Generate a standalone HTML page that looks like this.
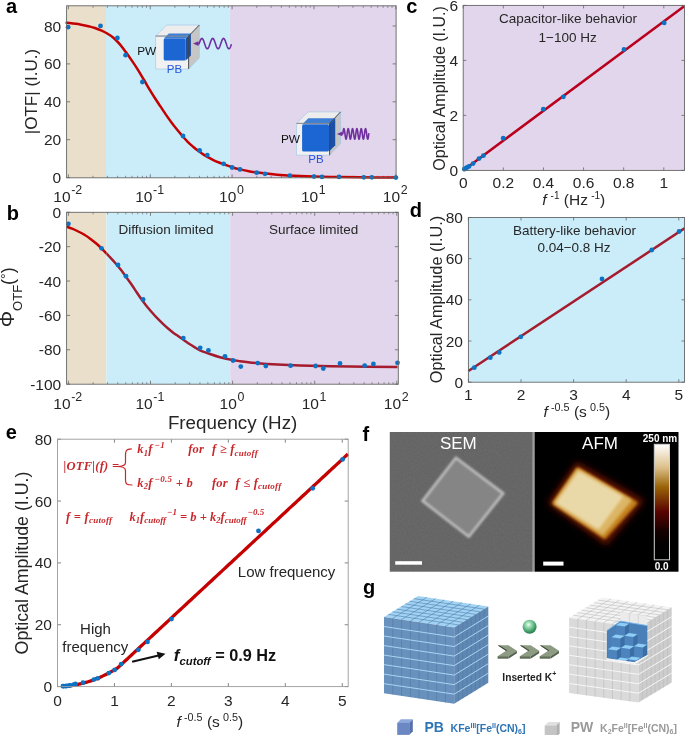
<!DOCTYPE html>
<html><head><meta charset="utf-8"><style>
html,body{margin:0;padding:0;background:#fff;}
body{width:685px;height:735px;overflow:hidden;}
svg{display:block;will-change:transform;}
</style></head><body>
<svg width="685" height="735" viewBox="0 0 685 735">
<rect x="66.60" y="5.80" width="39.40" height="172.00" fill="#eadfcb"/>
<rect x="106.00" y="5.80" width="123.50" height="172.00" fill="#cbedfa"/>
<rect x="229.50" y="5.80" width="166.60" height="172.00" fill="#e2d6ec"/>
<line x1="66.60" y1="177.60" x2="70.10" y2="177.60" stroke="#666666" stroke-width="0.8"/>
<line x1="396.10" y1="177.60" x2="392.60" y2="177.60" stroke="#666666" stroke-width="0.8"/>
<text x="61.20" y="183.10" font-family='"Liberation Sans", sans-serif' font-size="15.5" text-anchor="end" font-weight="normal" font-style="normal" fill="#262626">0</text>
<line x1="66.60" y1="139.70" x2="70.10" y2="139.70" stroke="#666666" stroke-width="0.8"/>
<line x1="396.10" y1="139.70" x2="392.60" y2="139.70" stroke="#666666" stroke-width="0.8"/>
<text x="61.20" y="145.20" font-family='"Liberation Sans", sans-serif' font-size="15.5" text-anchor="end" font-weight="normal" font-style="normal" fill="#262626">20</text>
<line x1="66.60" y1="101.80" x2="70.10" y2="101.80" stroke="#666666" stroke-width="0.8"/>
<line x1="396.10" y1="101.80" x2="392.60" y2="101.80" stroke="#666666" stroke-width="0.8"/>
<text x="61.20" y="107.30" font-family='"Liberation Sans", sans-serif' font-size="15.5" text-anchor="end" font-weight="normal" font-style="normal" fill="#262626">40</text>
<line x1="66.60" y1="63.90" x2="70.10" y2="63.90" stroke="#666666" stroke-width="0.8"/>
<line x1="396.10" y1="63.90" x2="392.60" y2="63.90" stroke="#666666" stroke-width="0.8"/>
<text x="61.20" y="69.40" font-family='"Liberation Sans", sans-serif' font-size="15.5" text-anchor="end" font-weight="normal" font-style="normal" fill="#262626">60</text>
<line x1="66.60" y1="26.00" x2="70.10" y2="26.00" stroke="#666666" stroke-width="0.8"/>
<line x1="396.10" y1="26.00" x2="392.60" y2="26.00" stroke="#666666" stroke-width="0.8"/>
<text x="61.20" y="31.50" font-family='"Liberation Sans", sans-serif' font-size="15.5" text-anchor="end" font-weight="normal" font-style="normal" fill="#262626">80</text>
<line x1="68.40" y1="177.80" x2="68.40" y2="174.30" stroke="#666666" stroke-width="0.8"/>
<line x1="68.40" y1="5.80" x2="68.40" y2="9.30" stroke="#666666" stroke-width="0.8"/>
<line x1="93.04" y1="177.80" x2="93.04" y2="175.80" stroke="#666666" stroke-width="0.7"/>
<line x1="93.04" y1="5.80" x2="93.04" y2="7.80" stroke="#666666" stroke-width="0.7"/>
<line x1="107.45" y1="177.80" x2="107.45" y2="175.80" stroke="#666666" stroke-width="0.7"/>
<line x1="107.45" y1="5.80" x2="107.45" y2="7.80" stroke="#666666" stroke-width="0.7"/>
<line x1="117.68" y1="177.80" x2="117.68" y2="175.80" stroke="#666666" stroke-width="0.7"/>
<line x1="117.68" y1="5.80" x2="117.68" y2="7.80" stroke="#666666" stroke-width="0.7"/>
<line x1="125.61" y1="177.80" x2="125.61" y2="175.80" stroke="#666666" stroke-width="0.7"/>
<line x1="125.61" y1="5.80" x2="125.61" y2="7.80" stroke="#666666" stroke-width="0.7"/>
<line x1="132.09" y1="177.80" x2="132.09" y2="175.80" stroke="#666666" stroke-width="0.7"/>
<line x1="132.09" y1="5.80" x2="132.09" y2="7.80" stroke="#666666" stroke-width="0.7"/>
<line x1="137.57" y1="177.80" x2="137.57" y2="175.80" stroke="#666666" stroke-width="0.7"/>
<line x1="137.57" y1="5.80" x2="137.57" y2="7.80" stroke="#666666" stroke-width="0.7"/>
<line x1="142.32" y1="177.80" x2="142.32" y2="175.80" stroke="#666666" stroke-width="0.7"/>
<line x1="142.32" y1="5.80" x2="142.32" y2="7.80" stroke="#666666" stroke-width="0.7"/>
<line x1="146.50" y1="177.80" x2="146.50" y2="175.80" stroke="#666666" stroke-width="0.7"/>
<line x1="146.50" y1="5.80" x2="146.50" y2="7.80" stroke="#666666" stroke-width="0.7"/>
<line x1="150.25" y1="177.80" x2="150.25" y2="174.30" stroke="#666666" stroke-width="0.8"/>
<line x1="150.25" y1="5.80" x2="150.25" y2="9.30" stroke="#666666" stroke-width="0.8"/>
<line x1="174.89" y1="177.80" x2="174.89" y2="175.80" stroke="#666666" stroke-width="0.7"/>
<line x1="174.89" y1="5.80" x2="174.89" y2="7.80" stroke="#666666" stroke-width="0.7"/>
<line x1="189.30" y1="177.80" x2="189.30" y2="175.80" stroke="#666666" stroke-width="0.7"/>
<line x1="189.30" y1="5.80" x2="189.30" y2="7.80" stroke="#666666" stroke-width="0.7"/>
<line x1="199.53" y1="177.80" x2="199.53" y2="175.80" stroke="#666666" stroke-width="0.7"/>
<line x1="199.53" y1="5.80" x2="199.53" y2="7.80" stroke="#666666" stroke-width="0.7"/>
<line x1="207.46" y1="177.80" x2="207.46" y2="175.80" stroke="#666666" stroke-width="0.7"/>
<line x1="207.46" y1="5.80" x2="207.46" y2="7.80" stroke="#666666" stroke-width="0.7"/>
<line x1="213.94" y1="177.80" x2="213.94" y2="175.80" stroke="#666666" stroke-width="0.7"/>
<line x1="213.94" y1="5.80" x2="213.94" y2="7.80" stroke="#666666" stroke-width="0.7"/>
<line x1="219.42" y1="177.80" x2="219.42" y2="175.80" stroke="#666666" stroke-width="0.7"/>
<line x1="219.42" y1="5.80" x2="219.42" y2="7.80" stroke="#666666" stroke-width="0.7"/>
<line x1="224.17" y1="177.80" x2="224.17" y2="175.80" stroke="#666666" stroke-width="0.7"/>
<line x1="224.17" y1="5.80" x2="224.17" y2="7.80" stroke="#666666" stroke-width="0.7"/>
<line x1="228.35" y1="177.80" x2="228.35" y2="175.80" stroke="#666666" stroke-width="0.7"/>
<line x1="228.35" y1="5.80" x2="228.35" y2="7.80" stroke="#666666" stroke-width="0.7"/>
<line x1="232.10" y1="177.80" x2="232.10" y2="174.30" stroke="#666666" stroke-width="0.8"/>
<line x1="232.10" y1="5.80" x2="232.10" y2="9.30" stroke="#666666" stroke-width="0.8"/>
<line x1="256.74" y1="177.80" x2="256.74" y2="175.80" stroke="#666666" stroke-width="0.7"/>
<line x1="256.74" y1="5.80" x2="256.74" y2="7.80" stroke="#666666" stroke-width="0.7"/>
<line x1="271.15" y1="177.80" x2="271.15" y2="175.80" stroke="#666666" stroke-width="0.7"/>
<line x1="271.15" y1="5.80" x2="271.15" y2="7.80" stroke="#666666" stroke-width="0.7"/>
<line x1="281.38" y1="177.80" x2="281.38" y2="175.80" stroke="#666666" stroke-width="0.7"/>
<line x1="281.38" y1="5.80" x2="281.38" y2="7.80" stroke="#666666" stroke-width="0.7"/>
<line x1="289.31" y1="177.80" x2="289.31" y2="175.80" stroke="#666666" stroke-width="0.7"/>
<line x1="289.31" y1="5.80" x2="289.31" y2="7.80" stroke="#666666" stroke-width="0.7"/>
<line x1="295.79" y1="177.80" x2="295.79" y2="175.80" stroke="#666666" stroke-width="0.7"/>
<line x1="295.79" y1="5.80" x2="295.79" y2="7.80" stroke="#666666" stroke-width="0.7"/>
<line x1="301.27" y1="177.80" x2="301.27" y2="175.80" stroke="#666666" stroke-width="0.7"/>
<line x1="301.27" y1="5.80" x2="301.27" y2="7.80" stroke="#666666" stroke-width="0.7"/>
<line x1="306.02" y1="177.80" x2="306.02" y2="175.80" stroke="#666666" stroke-width="0.7"/>
<line x1="306.02" y1="5.80" x2="306.02" y2="7.80" stroke="#666666" stroke-width="0.7"/>
<line x1="310.20" y1="177.80" x2="310.20" y2="175.80" stroke="#666666" stroke-width="0.7"/>
<line x1="310.20" y1="5.80" x2="310.20" y2="7.80" stroke="#666666" stroke-width="0.7"/>
<line x1="313.95" y1="177.80" x2="313.95" y2="174.30" stroke="#666666" stroke-width="0.8"/>
<line x1="313.95" y1="5.80" x2="313.95" y2="9.30" stroke="#666666" stroke-width="0.8"/>
<line x1="338.59" y1="177.80" x2="338.59" y2="175.80" stroke="#666666" stroke-width="0.7"/>
<line x1="338.59" y1="5.80" x2="338.59" y2="7.80" stroke="#666666" stroke-width="0.7"/>
<line x1="353.00" y1="177.80" x2="353.00" y2="175.80" stroke="#666666" stroke-width="0.7"/>
<line x1="353.00" y1="5.80" x2="353.00" y2="7.80" stroke="#666666" stroke-width="0.7"/>
<line x1="363.23" y1="177.80" x2="363.23" y2="175.80" stroke="#666666" stroke-width="0.7"/>
<line x1="363.23" y1="5.80" x2="363.23" y2="7.80" stroke="#666666" stroke-width="0.7"/>
<line x1="371.16" y1="177.80" x2="371.16" y2="175.80" stroke="#666666" stroke-width="0.7"/>
<line x1="371.16" y1="5.80" x2="371.16" y2="7.80" stroke="#666666" stroke-width="0.7"/>
<line x1="377.64" y1="177.80" x2="377.64" y2="175.80" stroke="#666666" stroke-width="0.7"/>
<line x1="377.64" y1="5.80" x2="377.64" y2="7.80" stroke="#666666" stroke-width="0.7"/>
<line x1="383.12" y1="177.80" x2="383.12" y2="175.80" stroke="#666666" stroke-width="0.7"/>
<line x1="383.12" y1="5.80" x2="383.12" y2="7.80" stroke="#666666" stroke-width="0.7"/>
<line x1="387.87" y1="177.80" x2="387.87" y2="175.80" stroke="#666666" stroke-width="0.7"/>
<line x1="387.87" y1="5.80" x2="387.87" y2="7.80" stroke="#666666" stroke-width="0.7"/>
<line x1="392.05" y1="177.80" x2="392.05" y2="175.80" stroke="#666666" stroke-width="0.7"/>
<line x1="392.05" y1="5.80" x2="392.05" y2="7.80" stroke="#666666" stroke-width="0.7"/>
<line x1="395.80" y1="177.80" x2="395.80" y2="174.30" stroke="#666666" stroke-width="0.8"/>
<line x1="395.80" y1="5.80" x2="395.80" y2="9.30" stroke="#666666" stroke-width="0.8"/>
<text x="67.80" y="202.00" font-family='"Liberation Sans", sans-serif' font-size="15.5" text-anchor="middle" fill="#262626">10<tspan font-size="12.4" dx="0.6" dy="-7.6">-2</tspan></text>
<text x="149.65" y="202.00" font-family='"Liberation Sans", sans-serif' font-size="15.5" text-anchor="middle" fill="#262626">10<tspan font-size="12.4" dx="0.6" dy="-7.6">-1</tspan></text>
<text x="231.50" y="202.00" font-family='"Liberation Sans", sans-serif' font-size="15.5" text-anchor="middle" fill="#262626">10<tspan font-size="12.4" dx="0.6" dy="-7.6">0</tspan></text>
<text x="313.35" y="202.00" font-family='"Liberation Sans", sans-serif' font-size="15.5" text-anchor="middle" fill="#262626">10<tspan font-size="12.4" dx="0.6" dy="-7.6">1</tspan></text>
<text x="395.20" y="202.00" font-family='"Liberation Sans", sans-serif' font-size="15.5" text-anchor="middle" fill="#262626">10<tspan font-size="12.4" dx="0.6" dy="-7.6">2</tspan></text>
<path d="M66.60,22.80 C68.83,23.07 76.10,23.77 80.00,24.40 C83.90,25.03 87.50,26.00 90.00,26.60 C92.50,27.20 93.15,27.37 95.00,28.00 C96.85,28.63 99.07,29.48 101.10,30.40 C103.13,31.32 105.15,32.28 107.20,33.50 C109.25,34.72 111.35,35.97 113.40,37.70 C115.45,39.43 117.47,41.55 119.50,43.90 C121.53,46.25 123.57,49.05 125.60,51.80 C127.63,54.55 129.67,57.43 131.70,60.40 C133.73,63.37 135.75,66.33 137.80,69.60 C139.85,72.87 141.95,76.53 144.00,80.00 C146.05,83.47 148.27,87.35 150.10,90.40 C151.93,93.45 153.28,95.63 155.00,98.30 C156.72,100.97 158.58,103.68 160.40,106.40 C162.22,109.12 164.08,111.97 165.90,114.60 C167.72,117.23 169.48,119.75 171.30,122.20 C173.12,124.65 174.98,127.03 176.80,129.30 C178.62,131.57 180.38,133.72 182.20,135.80 C184.02,137.88 185.88,139.98 187.70,141.80 C189.52,143.62 191.30,145.15 193.10,146.70 C194.90,148.25 196.68,149.73 198.50,151.10 C200.32,152.47 202.18,153.77 204.00,154.90 C205.82,156.03 207.58,156.90 209.40,157.90 C211.22,158.90 213.08,160.05 214.90,160.90 C216.72,161.75 218.62,162.37 220.30,163.00 C221.98,163.63 223.05,164.00 225.00,164.70 C226.95,165.40 229.50,166.42 232.00,167.20 C234.50,167.98 237.00,168.70 240.00,169.40 C243.00,170.10 246.33,170.78 250.00,171.40 C253.67,172.02 257.50,172.55 262.00,173.10 C266.50,173.65 270.67,174.22 277.00,174.70 C283.33,175.18 291.17,175.63 300.00,176.00 C308.83,176.37 320.00,176.68 330.00,176.90 C340.00,177.12 349.00,177.20 360.00,177.30 C371.00,177.40 390.00,177.47 396.00,177.50" fill="none" stroke="#c40000" stroke-width="2.5" stroke-linecap="round"/>
<circle cx="68.10" cy="27.20" r="2.4" fill="#0b72c4"/>
<circle cx="100.50" cy="25.90" r="2.4" fill="#0b72c4"/>
<circle cx="117.40" cy="38.00" r="2.4" fill="#0b72c4"/>
<circle cx="125.60" cy="55.20" r="2.4" fill="#0b72c4"/>
<circle cx="142.40" cy="82.00" r="2.4" fill="#0b72c4"/>
<circle cx="183.00" cy="136.00" r="2.4" fill="#0b72c4"/>
<circle cx="199.60" cy="150.50" r="2.4" fill="#0b72c4"/>
<circle cx="207.30" cy="155.10" r="2.4" fill="#0b72c4"/>
<circle cx="223.60" cy="163.80" r="2.4" fill="#0b72c4"/>
<circle cx="232.10" cy="167.50" r="2.4" fill="#0b72c4"/>
<circle cx="240.00" cy="169.40" r="2.4" fill="#0b72c4"/>
<circle cx="256.70" cy="172.70" r="2.4" fill="#0b72c4"/>
<circle cx="265.00" cy="173.80" r="2.4" fill="#0b72c4"/>
<circle cx="289.90" cy="175.70" r="2.4" fill="#0b72c4"/>
<circle cx="314.00" cy="176.60" r="2.4" fill="#0b72c4"/>
<circle cx="322.00" cy="176.90" r="2.4" fill="#0b72c4"/>
<circle cx="339.00" cy="176.90" r="2.4" fill="#0b72c4"/>
<circle cx="363.80" cy="177.30" r="2.4" fill="#0b72c4"/>
<circle cx="371.80" cy="177.30" r="2.4" fill="#0b72c4"/>
<circle cx="395.90" cy="177.60" r="2.4" fill="#0b72c4"/>
<rect x="66.60" y="5.80" width="329.50" height="172.00" fill="none" stroke="#666666" stroke-width="0.9"/>
<rect x="66.60" y="212.30" width="39.90" height="171.90" fill="#eadfcb"/>
<rect x="106.50" y="212.30" width="123.80" height="171.90" fill="#cbedfa"/>
<rect x="230.30" y="212.30" width="168.00" height="171.90" fill="#e2d6ec"/>
<line x1="66.60" y1="212.30" x2="70.10" y2="212.30" stroke="#666666" stroke-width="0.8"/>
<line x1="398.30" y1="212.30" x2="394.80" y2="212.30" stroke="#666666" stroke-width="0.8"/>
<text x="61.20" y="217.80" font-family='"Liberation Sans", sans-serif' font-size="15.5" text-anchor="end" font-weight="normal" font-style="normal" fill="#262626">0</text>
<line x1="66.60" y1="246.67" x2="70.10" y2="246.67" stroke="#666666" stroke-width="0.8"/>
<line x1="398.30" y1="246.67" x2="394.80" y2="246.67" stroke="#666666" stroke-width="0.8"/>
<text x="61.20" y="252.17" font-family='"Liberation Sans", sans-serif' font-size="15.5" text-anchor="end" font-weight="normal" font-style="normal" fill="#262626">-20</text>
<line x1="66.60" y1="281.04" x2="70.10" y2="281.04" stroke="#666666" stroke-width="0.8"/>
<line x1="398.30" y1="281.04" x2="394.80" y2="281.04" stroke="#666666" stroke-width="0.8"/>
<text x="61.20" y="286.54" font-family='"Liberation Sans", sans-serif' font-size="15.5" text-anchor="end" font-weight="normal" font-style="normal" fill="#262626">-40</text>
<line x1="66.60" y1="315.41" x2="70.10" y2="315.41" stroke="#666666" stroke-width="0.8"/>
<line x1="398.30" y1="315.41" x2="394.80" y2="315.41" stroke="#666666" stroke-width="0.8"/>
<text x="61.20" y="320.91" font-family='"Liberation Sans", sans-serif' font-size="15.5" text-anchor="end" font-weight="normal" font-style="normal" fill="#262626">-60</text>
<line x1="66.60" y1="349.78" x2="70.10" y2="349.78" stroke="#666666" stroke-width="0.8"/>
<line x1="398.30" y1="349.78" x2="394.80" y2="349.78" stroke="#666666" stroke-width="0.8"/>
<text x="61.20" y="355.28" font-family='"Liberation Sans", sans-serif' font-size="15.5" text-anchor="end" font-weight="normal" font-style="normal" fill="#262626">-80</text>
<line x1="66.60" y1="384.15" x2="70.10" y2="384.15" stroke="#666666" stroke-width="0.8"/>
<line x1="398.30" y1="384.15" x2="394.80" y2="384.15" stroke="#666666" stroke-width="0.8"/>
<text x="61.20" y="389.65" font-family='"Liberation Sans", sans-serif' font-size="15.5" text-anchor="end" font-weight="normal" font-style="normal" fill="#262626">-100</text>
<line x1="68.40" y1="384.20" x2="68.40" y2="380.70" stroke="#666666" stroke-width="0.8"/>
<line x1="68.40" y1="212.30" x2="68.40" y2="215.80" stroke="#666666" stroke-width="0.8"/>
<line x1="93.11" y1="384.20" x2="93.11" y2="382.20" stroke="#666666" stroke-width="0.7"/>
<line x1="93.11" y1="212.30" x2="93.11" y2="214.30" stroke="#666666" stroke-width="0.7"/>
<line x1="107.57" y1="384.20" x2="107.57" y2="382.20" stroke="#666666" stroke-width="0.7"/>
<line x1="107.57" y1="212.30" x2="107.57" y2="214.30" stroke="#666666" stroke-width="0.7"/>
<line x1="117.83" y1="384.20" x2="117.83" y2="382.20" stroke="#666666" stroke-width="0.7"/>
<line x1="117.83" y1="212.30" x2="117.83" y2="214.30" stroke="#666666" stroke-width="0.7"/>
<line x1="125.79" y1="384.20" x2="125.79" y2="382.20" stroke="#666666" stroke-width="0.7"/>
<line x1="125.79" y1="212.30" x2="125.79" y2="214.30" stroke="#666666" stroke-width="0.7"/>
<line x1="132.29" y1="384.20" x2="132.29" y2="382.20" stroke="#666666" stroke-width="0.7"/>
<line x1="132.29" y1="212.30" x2="132.29" y2="214.30" stroke="#666666" stroke-width="0.7"/>
<line x1="137.78" y1="384.20" x2="137.78" y2="382.20" stroke="#666666" stroke-width="0.7"/>
<line x1="137.78" y1="212.30" x2="137.78" y2="214.30" stroke="#666666" stroke-width="0.7"/>
<line x1="142.54" y1="384.20" x2="142.54" y2="382.20" stroke="#666666" stroke-width="0.7"/>
<line x1="142.54" y1="212.30" x2="142.54" y2="214.30" stroke="#666666" stroke-width="0.7"/>
<line x1="146.74" y1="384.20" x2="146.74" y2="382.20" stroke="#666666" stroke-width="0.7"/>
<line x1="146.74" y1="212.30" x2="146.74" y2="214.30" stroke="#666666" stroke-width="0.7"/>
<line x1="150.50" y1="384.20" x2="150.50" y2="380.70" stroke="#666666" stroke-width="0.8"/>
<line x1="150.50" y1="212.30" x2="150.50" y2="215.80" stroke="#666666" stroke-width="0.8"/>
<line x1="175.21" y1="384.20" x2="175.21" y2="382.20" stroke="#666666" stroke-width="0.7"/>
<line x1="175.21" y1="212.30" x2="175.21" y2="214.30" stroke="#666666" stroke-width="0.7"/>
<line x1="189.67" y1="384.20" x2="189.67" y2="382.20" stroke="#666666" stroke-width="0.7"/>
<line x1="189.67" y1="212.30" x2="189.67" y2="214.30" stroke="#666666" stroke-width="0.7"/>
<line x1="199.93" y1="384.20" x2="199.93" y2="382.20" stroke="#666666" stroke-width="0.7"/>
<line x1="199.93" y1="212.30" x2="199.93" y2="214.30" stroke="#666666" stroke-width="0.7"/>
<line x1="207.89" y1="384.20" x2="207.89" y2="382.20" stroke="#666666" stroke-width="0.7"/>
<line x1="207.89" y1="212.30" x2="207.89" y2="214.30" stroke="#666666" stroke-width="0.7"/>
<line x1="214.39" y1="384.20" x2="214.39" y2="382.20" stroke="#666666" stroke-width="0.7"/>
<line x1="214.39" y1="212.30" x2="214.39" y2="214.30" stroke="#666666" stroke-width="0.7"/>
<line x1="219.88" y1="384.20" x2="219.88" y2="382.20" stroke="#666666" stroke-width="0.7"/>
<line x1="219.88" y1="212.30" x2="219.88" y2="214.30" stroke="#666666" stroke-width="0.7"/>
<line x1="224.64" y1="384.20" x2="224.64" y2="382.20" stroke="#666666" stroke-width="0.7"/>
<line x1="224.64" y1="212.30" x2="224.64" y2="214.30" stroke="#666666" stroke-width="0.7"/>
<line x1="228.84" y1="384.20" x2="228.84" y2="382.20" stroke="#666666" stroke-width="0.7"/>
<line x1="228.84" y1="212.30" x2="228.84" y2="214.30" stroke="#666666" stroke-width="0.7"/>
<line x1="232.60" y1="384.20" x2="232.60" y2="380.70" stroke="#666666" stroke-width="0.8"/>
<line x1="232.60" y1="212.30" x2="232.60" y2="215.80" stroke="#666666" stroke-width="0.8"/>
<line x1="257.31" y1="384.20" x2="257.31" y2="382.20" stroke="#666666" stroke-width="0.7"/>
<line x1="257.31" y1="212.30" x2="257.31" y2="214.30" stroke="#666666" stroke-width="0.7"/>
<line x1="271.77" y1="384.20" x2="271.77" y2="382.20" stroke="#666666" stroke-width="0.7"/>
<line x1="271.77" y1="212.30" x2="271.77" y2="214.30" stroke="#666666" stroke-width="0.7"/>
<line x1="282.03" y1="384.20" x2="282.03" y2="382.20" stroke="#666666" stroke-width="0.7"/>
<line x1="282.03" y1="212.30" x2="282.03" y2="214.30" stroke="#666666" stroke-width="0.7"/>
<line x1="289.99" y1="384.20" x2="289.99" y2="382.20" stroke="#666666" stroke-width="0.7"/>
<line x1="289.99" y1="212.30" x2="289.99" y2="214.30" stroke="#666666" stroke-width="0.7"/>
<line x1="296.49" y1="384.20" x2="296.49" y2="382.20" stroke="#666666" stroke-width="0.7"/>
<line x1="296.49" y1="212.30" x2="296.49" y2="214.30" stroke="#666666" stroke-width="0.7"/>
<line x1="301.98" y1="384.20" x2="301.98" y2="382.20" stroke="#666666" stroke-width="0.7"/>
<line x1="301.98" y1="212.30" x2="301.98" y2="214.30" stroke="#666666" stroke-width="0.7"/>
<line x1="306.74" y1="384.20" x2="306.74" y2="382.20" stroke="#666666" stroke-width="0.7"/>
<line x1="306.74" y1="212.30" x2="306.74" y2="214.30" stroke="#666666" stroke-width="0.7"/>
<line x1="310.94" y1="384.20" x2="310.94" y2="382.20" stroke="#666666" stroke-width="0.7"/>
<line x1="310.94" y1="212.30" x2="310.94" y2="214.30" stroke="#666666" stroke-width="0.7"/>
<line x1="314.70" y1="384.20" x2="314.70" y2="380.70" stroke="#666666" stroke-width="0.8"/>
<line x1="314.70" y1="212.30" x2="314.70" y2="215.80" stroke="#666666" stroke-width="0.8"/>
<line x1="339.41" y1="384.20" x2="339.41" y2="382.20" stroke="#666666" stroke-width="0.7"/>
<line x1="339.41" y1="212.30" x2="339.41" y2="214.30" stroke="#666666" stroke-width="0.7"/>
<line x1="353.87" y1="384.20" x2="353.87" y2="382.20" stroke="#666666" stroke-width="0.7"/>
<line x1="353.87" y1="212.30" x2="353.87" y2="214.30" stroke="#666666" stroke-width="0.7"/>
<line x1="364.13" y1="384.20" x2="364.13" y2="382.20" stroke="#666666" stroke-width="0.7"/>
<line x1="364.13" y1="212.30" x2="364.13" y2="214.30" stroke="#666666" stroke-width="0.7"/>
<line x1="372.09" y1="384.20" x2="372.09" y2="382.20" stroke="#666666" stroke-width="0.7"/>
<line x1="372.09" y1="212.30" x2="372.09" y2="214.30" stroke="#666666" stroke-width="0.7"/>
<line x1="378.59" y1="384.20" x2="378.59" y2="382.20" stroke="#666666" stroke-width="0.7"/>
<line x1="378.59" y1="212.30" x2="378.59" y2="214.30" stroke="#666666" stroke-width="0.7"/>
<line x1="384.08" y1="384.20" x2="384.08" y2="382.20" stroke="#666666" stroke-width="0.7"/>
<line x1="384.08" y1="212.30" x2="384.08" y2="214.30" stroke="#666666" stroke-width="0.7"/>
<line x1="388.84" y1="384.20" x2="388.84" y2="382.20" stroke="#666666" stroke-width="0.7"/>
<line x1="388.84" y1="212.30" x2="388.84" y2="214.30" stroke="#666666" stroke-width="0.7"/>
<line x1="393.04" y1="384.20" x2="393.04" y2="382.20" stroke="#666666" stroke-width="0.7"/>
<line x1="393.04" y1="212.30" x2="393.04" y2="214.30" stroke="#666666" stroke-width="0.7"/>
<line x1="396.80" y1="384.20" x2="396.80" y2="380.70" stroke="#666666" stroke-width="0.8"/>
<line x1="396.80" y1="212.30" x2="396.80" y2="215.80" stroke="#666666" stroke-width="0.8"/>
<text x="67.80" y="409.00" font-family='"Liberation Sans", sans-serif' font-size="15.5" text-anchor="middle" fill="#262626">10<tspan font-size="12.4" dx="0.6" dy="-7.6">-2</tspan></text>
<text x="149.90" y="409.00" font-family='"Liberation Sans", sans-serif' font-size="15.5" text-anchor="middle" fill="#262626">10<tspan font-size="12.4" dx="0.6" dy="-7.6">-1</tspan></text>
<text x="232.00" y="409.00" font-family='"Liberation Sans", sans-serif' font-size="15.5" text-anchor="middle" fill="#262626">10<tspan font-size="12.4" dx="0.6" dy="-7.6">0</tspan></text>
<text x="314.10" y="409.00" font-family='"Liberation Sans", sans-serif' font-size="15.5" text-anchor="middle" fill="#262626">10<tspan font-size="12.4" dx="0.6" dy="-7.6">1</tspan></text>
<text x="396.20" y="409.00" font-family='"Liberation Sans", sans-serif' font-size="15.5" text-anchor="middle" fill="#262626">10<tspan font-size="12.4" dx="0.6" dy="-7.6">2</tspan></text>
<clipPath id="cbL"><rect x="60" y="200" width="46.5" height="200"/></clipPath>
<clipPath id="cbR"><rect x="106.5" y="200" width="300" height="200"/></clipPath>
<path d="M66.60,226.60 C67.52,226.95 70.17,227.88 72.10,228.70 C74.03,229.52 76.15,230.48 78.20,231.50 C80.25,232.52 82.35,233.57 84.40,234.80 C86.45,236.03 88.47,237.40 90.50,238.90 C92.53,240.40 94.57,242.02 96.60,243.80 C98.63,245.58 100.67,247.57 102.70,249.60 C104.73,251.63 106.75,253.82 108.80,256.00 C110.85,258.18 112.95,260.35 115.00,262.70 C117.05,265.05 119.07,267.45 121.10,270.10 C123.13,272.75 125.35,276.03 127.20,278.60 C129.05,281.17 130.83,283.53 132.20,285.50 C133.57,287.47 133.95,288.22 135.40,290.40 C136.85,292.58 139.08,296.05 140.90,298.60 C142.72,301.15 144.48,303.43 146.30,305.70 C148.12,307.97 149.98,310.12 151.80,312.20 C153.62,314.28 155.38,316.30 157.20,318.20 C159.02,320.10 160.88,321.88 162.70,323.60 C164.52,325.32 166.30,326.95 168.10,328.50 C169.90,330.05 171.68,331.53 173.50,332.90 C175.32,334.27 177.18,335.43 179.00,336.70 C180.82,337.97 182.58,339.23 184.40,340.50 C186.22,341.77 188.08,343.12 189.90,344.30 C191.72,345.48 193.62,346.60 195.30,347.60 C196.98,348.60 197.55,349.23 200.00,350.30 C202.45,351.37 206.67,352.85 210.00,354.00 C213.33,355.15 216.67,356.27 220.00,357.20 C223.33,358.13 226.67,358.93 230.00,359.60 C233.33,360.27 236.67,360.73 240.00,361.20 C243.33,361.67 245.50,361.93 250.00,362.40 C254.50,362.87 258.67,363.48 267.00,364.00 C275.33,364.52 286.17,365.08 300.00,365.50 C313.83,365.92 333.75,366.25 350.00,366.50 C366.25,366.75 389.58,366.92 397.50,367.00" fill="none" stroke="#c40000" stroke-width="2.5" clip-path="url(#cbL)"/>
<path d="M66.60,226.60 C67.52,226.95 70.17,227.88 72.10,228.70 C74.03,229.52 76.15,230.48 78.20,231.50 C80.25,232.52 82.35,233.57 84.40,234.80 C86.45,236.03 88.47,237.40 90.50,238.90 C92.53,240.40 94.57,242.02 96.60,243.80 C98.63,245.58 100.67,247.57 102.70,249.60 C104.73,251.63 106.75,253.82 108.80,256.00 C110.85,258.18 112.95,260.35 115.00,262.70 C117.05,265.05 119.07,267.45 121.10,270.10 C123.13,272.75 125.35,276.03 127.20,278.60 C129.05,281.17 130.83,283.53 132.20,285.50 C133.57,287.47 133.95,288.22 135.40,290.40 C136.85,292.58 139.08,296.05 140.90,298.60 C142.72,301.15 144.48,303.43 146.30,305.70 C148.12,307.97 149.98,310.12 151.80,312.20 C153.62,314.28 155.38,316.30 157.20,318.20 C159.02,320.10 160.88,321.88 162.70,323.60 C164.52,325.32 166.30,326.95 168.10,328.50 C169.90,330.05 171.68,331.53 173.50,332.90 C175.32,334.27 177.18,335.43 179.00,336.70 C180.82,337.97 182.58,339.23 184.40,340.50 C186.22,341.77 188.08,343.12 189.90,344.30 C191.72,345.48 193.62,346.60 195.30,347.60 C196.98,348.60 197.55,349.23 200.00,350.30 C202.45,351.37 206.67,352.85 210.00,354.00 C213.33,355.15 216.67,356.27 220.00,357.20 C223.33,358.13 226.67,358.93 230.00,359.60 C233.33,360.27 236.67,360.73 240.00,361.20 C243.33,361.67 245.50,361.93 250.00,362.40 C254.50,362.87 258.67,363.48 267.00,364.00 C275.33,364.52 286.17,365.08 300.00,365.50 C313.83,365.92 333.75,366.25 350.00,366.50 C366.25,366.75 389.58,366.92 397.50,367.00" fill="none" stroke="#a51c2e" stroke-width="2.5" clip-path="url(#cbR)"/>
<circle cx="68.40" cy="223.80" r="2.4" fill="#0b72c4"/>
<circle cx="101.50" cy="248.30" r="2.4" fill="#0b72c4"/>
<circle cx="118.00" cy="264.90" r="2.4" fill="#0b72c4"/>
<circle cx="126.00" cy="276.20" r="2.4" fill="#0b72c4"/>
<circle cx="143.10" cy="299.40" r="2.4" fill="#0b72c4"/>
<circle cx="183.30" cy="338.10" r="2.4" fill="#0b72c4"/>
<circle cx="200.20" cy="347.80" r="2.4" fill="#0b72c4"/>
<circle cx="208.40" cy="350.40" r="2.4" fill="#0b72c4"/>
<circle cx="225.00" cy="356.30" r="2.4" fill="#0b72c4"/>
<circle cx="233.00" cy="360.50" r="2.4" fill="#0b72c4"/>
<circle cx="240.80" cy="366.60" r="2.4" fill="#0b72c4"/>
<circle cx="257.80" cy="363.10" r="2.4" fill="#0b72c4"/>
<circle cx="265.80" cy="366.00" r="2.4" fill="#0b72c4"/>
<circle cx="290.60" cy="365.70" r="2.4" fill="#0b72c4"/>
<circle cx="315.60" cy="366.00" r="2.4" fill="#0b72c4"/>
<circle cx="323.30" cy="368.50" r="2.4" fill="#0b72c4"/>
<circle cx="340.00" cy="363.40" r="2.4" fill="#0b72c4"/>
<circle cx="364.70" cy="365.70" r="2.4" fill="#0b72c4"/>
<circle cx="373.40" cy="364.00" r="2.4" fill="#0b72c4"/>
<circle cx="397.50" cy="362.80" r="2.4" fill="#0b72c4"/>
<rect x="66.60" y="212.30" width="331.70" height="171.90" fill="none" stroke="#666666" stroke-width="0.9"/>
<text x="166.00" y="234.40" font-family='"Liberation Sans", sans-serif' font-size="13.5" text-anchor="middle" font-weight="normal" font-style="normal" fill="#262626">Diffusion limited</text>
<text x="313.70" y="234.40" font-family='"Liberation Sans", sans-serif' font-size="13.5" text-anchor="middle" font-weight="normal" font-style="normal" fill="#262626">Surface limited</text>
<text x="232.60" y="429.20" font-family='"Liberation Sans", sans-serif' font-size="18.8" text-anchor="middle" font-weight="normal" font-style="normal" fill="#262626">Frequency (Hz)</text>
<rect x="463.20" y="5.40" width="221.30" height="165.00" fill="#e2d6ec"/>
<line x1="463.20" y1="170.40" x2="466.20" y2="170.40" stroke="#666666" stroke-width="0.8"/>
<line x1="684.50" y1="170.40" x2="681.50" y2="170.40" stroke="#666666" stroke-width="0.8"/>
<text x="458.00" y="175.90" font-family='"Liberation Sans", sans-serif' font-size="15.5" text-anchor="end" font-weight="normal" font-style="normal" fill="#262626">0</text>
<line x1="463.20" y1="115.40" x2="466.20" y2="115.40" stroke="#666666" stroke-width="0.8"/>
<line x1="684.50" y1="115.40" x2="681.50" y2="115.40" stroke="#666666" stroke-width="0.8"/>
<text x="458.00" y="120.90" font-family='"Liberation Sans", sans-serif' font-size="15.5" text-anchor="end" font-weight="normal" font-style="normal" fill="#262626">2</text>
<line x1="463.20" y1="60.40" x2="466.20" y2="60.40" stroke="#666666" stroke-width="0.8"/>
<line x1="684.50" y1="60.40" x2="681.50" y2="60.40" stroke="#666666" stroke-width="0.8"/>
<text x="458.00" y="65.90" font-family='"Liberation Sans", sans-serif' font-size="15.5" text-anchor="end" font-weight="normal" font-style="normal" fill="#262626">4</text>
<line x1="463.20" y1="5.40" x2="466.20" y2="5.40" stroke="#666666" stroke-width="0.8"/>
<line x1="684.50" y1="5.40" x2="681.50" y2="5.40" stroke="#666666" stroke-width="0.8"/>
<text x="458.00" y="10.90" font-family='"Liberation Sans", sans-serif' font-size="15.5" text-anchor="end" font-weight="normal" font-style="normal" fill="#262626">6</text>
<line x1="463.20" y1="170.40" x2="463.20" y2="167.40" stroke="#666666" stroke-width="0.8"/>
<line x1="463.20" y1="5.40" x2="463.20" y2="8.40" stroke="#666666" stroke-width="0.8"/>
<text x="463.20" y="188.30" font-family='"Liberation Sans", sans-serif' font-size="15.5" text-anchor="middle" font-weight="normal" font-style="normal" fill="#262626">0</text>
<line x1="503.32" y1="170.40" x2="503.32" y2="167.40" stroke="#666666" stroke-width="0.8"/>
<line x1="503.32" y1="5.40" x2="503.32" y2="8.40" stroke="#666666" stroke-width="0.8"/>
<text x="503.32" y="188.30" font-family='"Liberation Sans", sans-serif' font-size="15.5" text-anchor="middle" font-weight="normal" font-style="normal" fill="#262626">0.2</text>
<line x1="543.44" y1="170.40" x2="543.44" y2="167.40" stroke="#666666" stroke-width="0.8"/>
<line x1="543.44" y1="5.40" x2="543.44" y2="8.40" stroke="#666666" stroke-width="0.8"/>
<text x="543.44" y="188.30" font-family='"Liberation Sans", sans-serif' font-size="15.5" text-anchor="middle" font-weight="normal" font-style="normal" fill="#262626">0.4</text>
<line x1="583.56" y1="170.40" x2="583.56" y2="167.40" stroke="#666666" stroke-width="0.8"/>
<line x1="583.56" y1="5.40" x2="583.56" y2="8.40" stroke="#666666" stroke-width="0.8"/>
<text x="583.56" y="188.30" font-family='"Liberation Sans", sans-serif' font-size="15.5" text-anchor="middle" font-weight="normal" font-style="normal" fill="#262626">0.6</text>
<line x1="623.68" y1="170.40" x2="623.68" y2="167.40" stroke="#666666" stroke-width="0.8"/>
<line x1="623.68" y1="5.40" x2="623.68" y2="8.40" stroke="#666666" stroke-width="0.8"/>
<text x="623.68" y="188.30" font-family='"Liberation Sans", sans-serif' font-size="15.5" text-anchor="middle" font-weight="normal" font-style="normal" fill="#262626">0.8</text>
<line x1="663.80" y1="170.40" x2="663.80" y2="167.40" stroke="#666666" stroke-width="0.8"/>
<line x1="663.80" y1="5.40" x2="663.80" y2="8.40" stroke="#666666" stroke-width="0.8"/>
<text x="663.80" y="188.30" font-family='"Liberation Sans", sans-serif' font-size="15.5" text-anchor="middle" font-weight="normal" font-style="normal" fill="#262626">1</text>
<line x1="463.20" y1="170.40" x2="683.86" y2="6.50" stroke="#b9001c" stroke-width="2.5"/>
<circle cx="664.20" cy="22.90" r="2.4" fill="#0b72c4"/>
<circle cx="624.00" cy="49.40" r="2.4" fill="#0b72c4"/>
<circle cx="563.40" cy="96.80" r="2.4" fill="#0b72c4"/>
<circle cx="543.30" cy="109.20" r="2.4" fill="#0b72c4"/>
<circle cx="503.20" cy="138.20" r="2.4" fill="#0b72c4"/>
<circle cx="483.40" cy="155.70" r="2.4" fill="#0b72c4"/>
<circle cx="479.00" cy="158.60" r="2.4" fill="#0b72c4"/>
<circle cx="473.10" cy="163.60" r="2.4" fill="#0b72c4"/>
<circle cx="469.00" cy="166.40" r="2.4" fill="#0b72c4"/>
<circle cx="467.00" cy="167.40" r="2.4" fill="#0b72c4"/>
<circle cx="465.60" cy="168.40" r="2.4" fill="#0b72c4"/>
<circle cx="464.40" cy="169.20" r="2.4" fill="#0b72c4"/>
<rect x="463.20" y="5.40" width="221.30" height="165.00" fill="none" stroke="#666666" stroke-width="0.9"/>
<text x="568.00" y="23.20" font-family='"Liberation Sans", sans-serif' font-size="13.5" text-anchor="middle" font-weight="normal" font-style="normal" fill="#262626">Capacitor-like behavior</text>
<text x="567.60" y="42.00" font-family='"Liberation Sans", sans-serif' font-size="13.5" text-anchor="middle" font-weight="normal" font-style="normal" fill="#262626">1&#8722;100 Hz</text>
<rect x="468.40" y="217.50" width="216.10" height="164.70" fill="#cbedfa"/>
<line x1="468.40" y1="382.20" x2="471.40" y2="382.20" stroke="#666666" stroke-width="0.8"/>
<line x1="684.50" y1="382.20" x2="681.50" y2="382.20" stroke="#666666" stroke-width="0.8"/>
<text x="463.00" y="387.70" font-family='"Liberation Sans", sans-serif' font-size="15.5" text-anchor="end" font-weight="normal" font-style="normal" fill="#262626">0</text>
<line x1="468.40" y1="341.02" x2="471.40" y2="341.02" stroke="#666666" stroke-width="0.8"/>
<line x1="684.50" y1="341.02" x2="681.50" y2="341.02" stroke="#666666" stroke-width="0.8"/>
<text x="463.00" y="346.52" font-family='"Liberation Sans", sans-serif' font-size="15.5" text-anchor="end" font-weight="normal" font-style="normal" fill="#262626">20</text>
<line x1="468.40" y1="299.84" x2="471.40" y2="299.84" stroke="#666666" stroke-width="0.8"/>
<line x1="684.50" y1="299.84" x2="681.50" y2="299.84" stroke="#666666" stroke-width="0.8"/>
<text x="463.00" y="305.34" font-family='"Liberation Sans", sans-serif' font-size="15.5" text-anchor="end" font-weight="normal" font-style="normal" fill="#262626">40</text>
<line x1="468.40" y1="258.66" x2="471.40" y2="258.66" stroke="#666666" stroke-width="0.8"/>
<line x1="684.50" y1="258.66" x2="681.50" y2="258.66" stroke="#666666" stroke-width="0.8"/>
<text x="463.00" y="264.16" font-family='"Liberation Sans", sans-serif' font-size="15.5" text-anchor="end" font-weight="normal" font-style="normal" fill="#262626">60</text>
<line x1="468.40" y1="217.48" x2="471.40" y2="217.48" stroke="#666666" stroke-width="0.8"/>
<line x1="684.50" y1="217.48" x2="681.50" y2="217.48" stroke="#666666" stroke-width="0.8"/>
<text x="463.00" y="222.98" font-family='"Liberation Sans", sans-serif' font-size="15.5" text-anchor="end" font-weight="normal" font-style="normal" fill="#262626">80</text>
<line x1="468.40" y1="382.20" x2="468.40" y2="379.20" stroke="#666666" stroke-width="0.8"/>
<line x1="468.40" y1="217.50" x2="468.40" y2="220.50" stroke="#666666" stroke-width="0.8"/>
<text x="468.40" y="399.60" font-family='"Liberation Sans", sans-serif' font-size="15.5" text-anchor="middle" font-weight="normal" font-style="normal" fill="#262626">1</text>
<line x1="521.00" y1="382.20" x2="521.00" y2="379.20" stroke="#666666" stroke-width="0.8"/>
<line x1="521.00" y1="217.50" x2="521.00" y2="220.50" stroke="#666666" stroke-width="0.8"/>
<text x="521.00" y="399.60" font-family='"Liberation Sans", sans-serif' font-size="15.5" text-anchor="middle" font-weight="normal" font-style="normal" fill="#262626">2</text>
<line x1="573.60" y1="382.20" x2="573.60" y2="379.20" stroke="#666666" stroke-width="0.8"/>
<line x1="573.60" y1="217.50" x2="573.60" y2="220.50" stroke="#666666" stroke-width="0.8"/>
<text x="573.60" y="399.60" font-family='"Liberation Sans", sans-serif' font-size="15.5" text-anchor="middle" font-weight="normal" font-style="normal" fill="#262626">3</text>
<line x1="626.20" y1="382.20" x2="626.20" y2="379.20" stroke="#666666" stroke-width="0.8"/>
<line x1="626.20" y1="217.50" x2="626.20" y2="220.50" stroke="#666666" stroke-width="0.8"/>
<text x="626.20" y="399.60" font-family='"Liberation Sans", sans-serif' font-size="15.5" text-anchor="middle" font-weight="normal" font-style="normal" fill="#262626">4</text>
<line x1="678.80" y1="382.20" x2="678.80" y2="379.20" stroke="#666666" stroke-width="0.8"/>
<line x1="678.80" y1="217.50" x2="678.80" y2="220.50" stroke="#666666" stroke-width="0.8"/>
<text x="678.80" y="399.60" font-family='"Liberation Sans", sans-serif' font-size="15.5" text-anchor="middle" font-weight="normal" font-style="normal" fill="#262626">5</text>
<line x1="468.4" y1="371.0" x2="684.5" y2="228.4" stroke="#a51c2e" stroke-width="2.5"/>
<circle cx="474.30" cy="367.70" r="2.4" fill="#0b72c4"/>
<circle cx="490.30" cy="357.70" r="2.4" fill="#0b72c4"/>
<circle cx="499.20" cy="352.40" r="2.4" fill="#0b72c4"/>
<circle cx="520.80" cy="336.80" r="2.4" fill="#0b72c4"/>
<circle cx="602.00" cy="278.90" r="2.4" fill="#0b72c4"/>
<circle cx="651.80" cy="250.00" r="2.4" fill="#0b72c4"/>
<circle cx="679.10" cy="231.50" r="2.4" fill="#0b72c4"/>
<rect x="468.40" y="217.50" width="216.10" height="164.70" fill="none" stroke="#666666" stroke-width="0.9"/>
<line x1="57.50" y1="686.60" x2="61.00" y2="686.60" stroke="#666666" stroke-width="0.8"/>
<line x1="348.20" y1="686.60" x2="344.70" y2="686.60" stroke="#666666" stroke-width="0.8"/>
<text x="52.00" y="692.10" font-family='"Liberation Sans", sans-serif' font-size="15.5" text-anchor="end" font-weight="normal" font-style="normal" fill="#262626">0</text>
<line x1="57.50" y1="624.75" x2="61.00" y2="624.75" stroke="#666666" stroke-width="0.8"/>
<line x1="348.20" y1="624.75" x2="344.70" y2="624.75" stroke="#666666" stroke-width="0.8"/>
<text x="52.00" y="630.25" font-family='"Liberation Sans", sans-serif' font-size="15.5" text-anchor="end" font-weight="normal" font-style="normal" fill="#262626">20</text>
<line x1="57.50" y1="562.90" x2="61.00" y2="562.90" stroke="#666666" stroke-width="0.8"/>
<line x1="348.20" y1="562.90" x2="344.70" y2="562.90" stroke="#666666" stroke-width="0.8"/>
<text x="52.00" y="568.40" font-family='"Liberation Sans", sans-serif' font-size="15.5" text-anchor="end" font-weight="normal" font-style="normal" fill="#262626">40</text>
<line x1="57.50" y1="501.05" x2="61.00" y2="501.05" stroke="#666666" stroke-width="0.8"/>
<line x1="348.20" y1="501.05" x2="344.70" y2="501.05" stroke="#666666" stroke-width="0.8"/>
<text x="52.00" y="506.55" font-family='"Liberation Sans", sans-serif' font-size="15.5" text-anchor="end" font-weight="normal" font-style="normal" fill="#262626">60</text>
<line x1="57.50" y1="439.20" x2="61.00" y2="439.20" stroke="#666666" stroke-width="0.8"/>
<line x1="348.20" y1="439.20" x2="344.70" y2="439.20" stroke="#666666" stroke-width="0.8"/>
<text x="52.00" y="444.70" font-family='"Liberation Sans", sans-serif' font-size="15.5" text-anchor="end" font-weight="normal" font-style="normal" fill="#262626">80</text>
<line x1="57.50" y1="686.60" x2="57.50" y2="683.10" stroke="#666666" stroke-width="0.8"/>
<line x1="57.50" y1="439.20" x2="57.50" y2="442.70" stroke="#666666" stroke-width="0.8"/>
<text x="57.50" y="706.30" font-family='"Liberation Sans", sans-serif' font-size="15.5" text-anchor="middle" font-weight="normal" font-style="normal" fill="#262626">0</text>
<line x1="114.45" y1="686.60" x2="114.45" y2="683.10" stroke="#666666" stroke-width="0.8"/>
<line x1="114.45" y1="439.20" x2="114.45" y2="442.70" stroke="#666666" stroke-width="0.8"/>
<text x="114.45" y="706.30" font-family='"Liberation Sans", sans-serif' font-size="15.5" text-anchor="middle" font-weight="normal" font-style="normal" fill="#262626">1</text>
<line x1="171.40" y1="686.60" x2="171.40" y2="683.10" stroke="#666666" stroke-width="0.8"/>
<line x1="171.40" y1="439.20" x2="171.40" y2="442.70" stroke="#666666" stroke-width="0.8"/>
<text x="171.40" y="706.30" font-family='"Liberation Sans", sans-serif' font-size="15.5" text-anchor="middle" font-weight="normal" font-style="normal" fill="#262626">2</text>
<line x1="228.35" y1="686.60" x2="228.35" y2="683.10" stroke="#666666" stroke-width="0.8"/>
<line x1="228.35" y1="439.20" x2="228.35" y2="442.70" stroke="#666666" stroke-width="0.8"/>
<text x="228.35" y="706.30" font-family='"Liberation Sans", sans-serif' font-size="15.5" text-anchor="middle" font-weight="normal" font-style="normal" fill="#262626">3</text>
<line x1="285.30" y1="686.60" x2="285.30" y2="683.10" stroke="#666666" stroke-width="0.8"/>
<line x1="285.30" y1="439.20" x2="285.30" y2="442.70" stroke="#666666" stroke-width="0.8"/>
<text x="285.30" y="706.30" font-family='"Liberation Sans", sans-serif' font-size="15.5" text-anchor="middle" font-weight="normal" font-style="normal" fill="#262626">4</text>
<line x1="342.25" y1="686.60" x2="342.25" y2="683.10" stroke="#666666" stroke-width="0.8"/>
<line x1="342.25" y1="439.20" x2="342.25" y2="442.70" stroke="#666666" stroke-width="0.8"/>
<text x="342.25" y="706.30" font-family='"Liberation Sans", sans-serif' font-size="15.5" text-anchor="middle" font-weight="normal" font-style="normal" fill="#262626">5</text>
<path d="M63.20,686.43 C63.67,686.40 65.09,686.31 66.04,686.22 C66.99,686.14 67.94,686.04 68.89,685.93 C69.84,685.82 70.79,685.69 71.74,685.55 C72.69,685.41 73.64,685.26 74.59,685.09 C75.53,684.92 76.48,684.74 77.43,684.55 C78.38,684.35 79.33,684.14 80.28,683.92 C81.23,683.69 82.18,683.46 83.13,683.21 C84.08,682.95 85.03,682.69 85.97,682.41 C86.92,682.13 87.87,681.84 88.82,681.53 C89.77,681.22 90.72,680.90 91.67,680.57 C92.62,680.23 93.57,679.88 94.52,679.52 C95.47,679.16 96.42,678.78 97.37,678.39 C98.31,678.00 99.26,677.59 100.21,677.17 C101.16,676.75 102.11,676.32 103.06,675.87 C104.01,675.43 104.96,674.96 105.91,674.49 C106.86,674.02 107.81,673.53 108.76,673.02 C109.70,672.52 110.65,672.00 111.60,671.47 C112.55,670.94 113.50,670.40 114.45,669.84 C115.40,669.28 116.35,668.84 117.30,668.12 C118.25,667.40 119.20,666.41 120.15,665.54 C121.09,664.67 122.04,663.78 122.99,662.90 C123.94,662.01 124.89,661.13 125.84,660.25 C126.79,659.37 127.74,658.49 128.69,657.61 C129.64,656.73 130.59,655.85 131.54,654.96 C132.48,654.08 133.43,653.20 134.38,652.32 C135.33,651.44 136.28,650.56 137.23,649.68 C138.18,648.79 139.13,647.91 140.08,647.03 C141.03,646.15 141.98,645.27 142.93,644.39 C143.87,643.51 144.82,642.62 145.77,641.74 C146.72,640.86 147.67,639.98 148.62,639.10 C149.57,638.22 150.52,637.34 151.47,636.46 C152.42,635.57 153.37,634.69 154.32,633.81 C155.26,632.93 156.21,632.05 157.16,631.17 C158.11,630.29 159.06,629.40 160.01,628.52 C160.96,627.64 161.91,626.76 162.86,625.88 C163.81,625.00 164.76,624.12 165.71,623.23 C166.65,622.35 167.60,621.47 168.55,620.59 C169.50,619.71 170.45,618.83 171.40,617.95 C172.35,617.07 173.30,616.18 174.25,615.30 C175.20,614.42 176.15,613.54 177.10,612.66 C178.04,611.78 178.99,610.90 179.94,610.01 C180.89,609.13 181.84,608.25 182.79,607.37 C183.74,606.49 184.69,605.61 185.64,604.73 C186.59,603.84 187.54,602.96 188.48,602.08 C189.43,601.20 190.38,600.32 191.33,599.44 C192.28,598.56 193.23,597.68 194.18,596.79 C195.13,595.91 196.08,595.03 197.03,594.15 C197.98,593.27 198.93,592.39 199.87,591.51 C200.82,590.62 201.77,589.74 202.72,588.86 C203.67,587.98 204.62,587.10 205.57,586.22 C206.52,585.34 207.47,584.45 208.42,583.57 C209.37,582.69 210.32,581.81 211.26,580.93 C212.21,580.05 213.16,579.17 214.11,578.29 C215.06,577.40 216.01,576.52 216.96,575.64 C217.91,574.76 218.86,573.88 219.81,573.00 C220.76,572.12 221.71,571.23 222.65,570.35 C223.60,569.47 224.55,568.59 225.50,567.71 C226.45,566.83 227.40,565.95 228.35,565.06 C229.30,564.18 230.25,563.30 231.20,562.42 C232.15,561.54 233.10,560.66 234.04,559.78 C234.99,558.90 235.94,558.01 236.89,557.13 C237.84,556.25 238.79,555.37 239.74,554.49 C240.69,553.61 241.64,552.73 242.59,551.84 C243.54,550.96 244.49,550.08 245.43,549.20 C246.38,548.32 247.33,547.44 248.28,546.56 C249.23,545.67 250.18,544.79 251.13,543.91 C252.08,543.03 253.03,542.15 253.98,541.27 C254.93,540.39 255.88,539.51 256.82,538.62 C257.77,537.74 258.72,536.86 259.67,535.98 C260.62,535.10 261.57,534.22 262.52,533.34 C263.47,532.45 264.42,531.57 265.37,530.69 C266.32,529.81 267.27,528.93 268.21,528.05 C269.16,527.17 270.11,526.28 271.06,525.40 C272.01,524.52 272.96,523.64 273.91,522.76 C274.86,521.88 275.81,521.00 276.76,520.12 C277.71,519.23 278.66,518.35 279.60,517.47 C280.55,516.59 281.50,515.71 282.45,514.83 C283.40,513.95 284.35,513.06 285.30,512.18 C286.25,511.30 287.20,510.42 288.15,509.54 C289.10,508.66 290.05,507.78 290.99,506.89 C291.94,506.01 292.89,505.13 293.84,504.25 C294.79,503.37 295.74,502.49 296.69,501.61 C297.64,500.73 298.59,499.84 299.54,498.96 C300.49,498.08 301.44,497.20 302.38,496.32 C303.33,495.44 304.28,494.56 305.23,493.67 C306.18,492.79 307.13,491.91 308.08,491.03 C309.03,490.15 309.98,489.27 310.93,488.39 C311.88,487.50 312.83,486.62 313.77,485.74 C314.72,484.86 315.67,483.98 316.62,483.10 C317.57,482.22 318.52,481.34 319.47,480.45 C320.42,479.57 321.37,478.69 322.32,477.81 C323.27,476.93 324.22,476.05 325.16,475.17 C326.11,474.28 327.06,473.40 328.01,472.52 C328.96,471.64 329.91,470.76 330.86,469.88 C331.81,469.00 332.76,468.11 333.71,467.23 C334.66,466.35 335.61,465.47 336.55,464.59 C337.50,463.71 338.45,462.83 339.40,461.95 C340.35,461.06 341.30,460.18 342.25,459.30 C343.20,458.42 344.15,457.54 345.10,456.66 C346.05,455.78 347.47,454.45 347.94,454.01" fill="none" stroke="#c40000" stroke-width="3.3"/>
<circle cx="62.90" cy="686.20" r="2.4" fill="#0b72c4"/>
<circle cx="63.70" cy="686.20" r="2.4" fill="#0b72c4"/>
<circle cx="65.50" cy="686.10" r="2.4" fill="#0b72c4"/>
<circle cx="66.50" cy="686.00" r="2.4" fill="#0b72c4"/>
<circle cx="68.90" cy="685.60" r="2.4" fill="#0b72c4"/>
<circle cx="70.20" cy="685.40" r="2.4" fill="#0b72c4"/>
<circle cx="73.60" cy="684.60" r="2.4" fill="#0b72c4"/>
<circle cx="75.50" cy="684.00" r="2.4" fill="#0b72c4"/>
<circle cx="83.00" cy="682.70" r="2.4" fill="#0b72c4"/>
<circle cx="93.90" cy="679.60" r="2.4" fill="#0b72c4"/>
<circle cx="97.90" cy="678.30" r="2.4" fill="#0b72c4"/>
<circle cx="108.80" cy="673.10" r="2.4" fill="#0b72c4"/>
<circle cx="114.60" cy="669.90" r="2.4" fill="#0b72c4"/>
<circle cx="121.20" cy="664.10" r="2.4" fill="#0b72c4"/>
<circle cx="138.40" cy="649.80" r="2.4" fill="#0b72c4"/>
<circle cx="147.50" cy="641.90" r="2.4" fill="#0b72c4"/>
<circle cx="171.50" cy="619.10" r="2.4" fill="#0b72c4"/>
<circle cx="258.50" cy="530.90" r="2.4" fill="#0b72c4"/>
<circle cx="312.70" cy="488.30" r="2.4" fill="#0b72c4"/>
<circle cx="342.60" cy="459.40" r="2.4" fill="#0b72c4"/>
<rect x="57.50" y="439.20" width="290.70" height="247.40" fill="none" stroke="#9a9a9a" stroke-width="0.9"/>
<text x="37.00" y="91.50" font-family='"Liberation Sans", sans-serif' font-size="17" text-anchor="middle" font-weight="normal" font-style="normal" fill="#262626" transform="rotate(-90 37.0 91.5)">|OTF| (I.U.)</text>
<text transform="translate(13.6,297.3) rotate(-90)" font-family='"Liberation Sans", sans-serif' font-size="18" text-anchor="middle" fill="#262626"><tspan font-size="20.5">&#934;</tspan><tspan font-size="13" dy="8.6">OTF</tspan><tspan dy="-8.6">(</tspan><tspan font-size="14" dy="-3">&#176;</tspan><tspan dy="3">)</tspan></text>
<text x="445.10" y="88.40" font-family='"Liberation Sans", sans-serif' font-size="16" text-anchor="middle" font-weight="normal" font-style="normal" fill="#262626" transform="rotate(-90 445.1 88.4)">Optical Amplitude (I.U.)</text>
<text x="442.40" y="299.50" font-family='"Liberation Sans", sans-serif' font-size="16.3" text-anchor="middle" font-weight="normal" font-style="normal" fill="#262626" transform="rotate(-90 442.4 299.5)">Optical Amplitude (I.U.)</text>
<text x="27.80" y="563.00" font-family='"Liberation Sans", sans-serif' font-size="17.8" text-anchor="middle" font-weight="normal" font-style="normal" fill="#262626" transform="rotate(-90 27.8 563)">Optical Amplitude (I.U.)</text>
<text x="542.3" y="205.4" font-family='"Liberation Sans", sans-serif' font-size="15.5" fill="#262626"><tspan font-style="italic">f</tspan><tspan font-size="10" dx="4" dy="-6">-1</tspan><tspan dy="6"> (Hz</tspan><tspan font-size="10" dx="3.2" dy="-6">-1</tspan><tspan dy="6">)</tspan></text>
<text x="543.5" y="417.0" font-family='"Liberation Sans", sans-serif' font-size="15.5" fill="#262626"><tspan font-style="italic">f</tspan><tspan font-size="10.8" dx="3.2" dy="-5.8">-0.5</tspan><tspan dy="5.8"> (s</tspan><tspan font-size="10.8" dx="3.2" dy="-5.8">0.5</tspan><tspan dy="5.8">)</tspan></text>
<text x="176.5" y="727.0" font-family='"Liberation Sans", sans-serif' font-size="15.5" fill="#262626"><tspan font-style="italic">f</tspan><tspan font-size="10.8" dx="3.2" dy="-5.8">-0.5</tspan><tspan dy="5.8"> (s</tspan><tspan font-size="10.8" dx="3.2" dy="-5.8">0.5</tspan><tspan dy="5.8">)</tspan></text>
<text x="574.60" y="234.80" font-family='"Liberation Sans", sans-serif' font-size="13.5" text-anchor="middle" font-weight="normal" font-style="normal" fill="#262626">Battery-like behavior</text>
<text x="574.00" y="251.90" font-family='"Liberation Sans", sans-serif' font-size="13.5" text-anchor="middle" font-weight="normal" font-style="normal" fill="#262626">0.04&#8722;0.8 Hz</text>
<text x="95.50" y="634.40" font-family='"Liberation Sans", sans-serif' font-size="15" text-anchor="middle" font-weight="normal" font-style="normal" fill="#262626">High</text>
<text x="95.30" y="652.40" font-family='"Liberation Sans", sans-serif' font-size="15" text-anchor="middle" font-weight="normal" font-style="normal" fill="#262626">frequency</text>
<text x="237.80" y="577.00" font-family='"Liberation Sans", sans-serif' font-size="15" text-anchor="start" font-weight="normal" font-style="normal" fill="#262626">Low frequency</text>
<text x="173.8" y="660.6" font-family='"Liberation Sans", sans-serif' font-size="17" font-weight="bold" fill="#111"><tspan font-style="italic">f</tspan><tspan font-size="11.3" font-style="italic" dy="4.3">cutoff</tspan><tspan dy="-4.3" font-size="16.3"> = 0.9 Hz</tspan></text>
<line x1="132.10" y1="661.70" x2="158.50" y2="655.50" stroke="#111" stroke-width="2.2"/>
<path d="M165.5,653.8 L156.6,651.8 L158.8,659.3 Z" fill="#111" stroke="none" stroke-width="1"/>
<text x="63.5" y="470.4" font-family='"Liberation Serif", serif' font-size="12.5" font-weight="bold" font-style="italic" letter-spacing="0.25" fill="#c8282c">|<tspan>OTF</tspan>|(<tspan>f</tspan>) =</text>
<path d="M114.5,466.5 L118,466.5 M131.8,448.8 C125,448.8 125.5,452 125.5,457 L125.5,462.5 C125.5,465 122.5,466.5 117,466.5 C122.5,466.5 125.5,468 125.5,470.5 L125.5,480 C125.5,484 126.5,485 132.5,485" fill="none" stroke="#c8282c" stroke-width="1.2"/>
<text x="137.2" y="453.4" font-family='"Liberation Serif", serif' font-size="12.5" font-weight="bold" font-style="italic" letter-spacing="0.25" fill="#c8282c">k<tspan font-size="8.5" dy="2.5">1</tspan><tspan dy="-2.5">f</tspan><tspan font-size="9" dy="-5" dx="2">&#8722;1</tspan></text>
<text x="188.2" y="453.4" font-family='"Liberation Serif", serif' font-size="12.5" font-weight="bold" font-style="italic" letter-spacing="0.25" fill="#c8282c">for</text>
<text x="211.9" y="453.4" font-family='"Liberation Serif", serif' font-size="12.5" font-weight="bold" font-style="italic" letter-spacing="0.25" fill="#c8282c">f &#8805; f<tspan font-size="9" dy="2.5">cutoff</tspan></text>
<text x="137.2" y="486.8" font-family='"Liberation Serif", serif' font-size="12.5" font-weight="bold" font-style="italic" letter-spacing="0.25" fill="#c8282c">k<tspan font-size="8.5" dy="2.5">2</tspan><tspan dy="-2.5">f</tspan><tspan font-size="9" dy="-5" dx="2">&#8722;0.5</tspan><tspan dy="5"> + b</tspan></text>
<text x="211.9" y="486.8" font-family='"Liberation Serif", serif' font-size="12.5" font-weight="bold" font-style="italic" letter-spacing="0.25" fill="#c8282c">for</text>
<text x="235.4" y="486.8" font-family='"Liberation Serif", serif' font-size="12.5" font-weight="bold" font-style="italic" letter-spacing="0.25" fill="#c8282c">f &#8804; f<tspan font-size="9" dy="2.5">cutoff</tspan></text>
<text x="66" y="520.6" font-family='"Liberation Serif", serif' font-size="12.5" font-weight="bold" font-style="italic" letter-spacing="0.25" fill="#c8282c">f = f<tspan font-size="9" dy="2.5">cutoff</tspan></text>
<text x="129.5" y="520.6" font-family='"Liberation Serif", serif' font-size="12.5" font-weight="bold" font-style="italic" letter-spacing="0" fill="#c8282c">k<tspan font-size="8.5" dy="2.5">1</tspan><tspan dy="-2.5">f</tspan><tspan font-size="9" dy="2.5">cutoff</tspan><tspan font-size="9" dy="-8" dx="1">&#8722;1</tspan><tspan dy="5.5"> = b + k</tspan><tspan font-size="8.5" dy="2.5">2</tspan><tspan dy="-2.5">f</tspan><tspan font-size="9" dy="2.5">cutoff</tspan><tspan font-size="9" dy="-8" dx="1">&#8722;0.5</tspan></text>
<defs><filter id="blr" x="-20%" y="-20%" width="140%" height="140%"><feGaussianBlur stdDeviation="0.55"/></filter><filter id="blr2" x="-30%" y="-30%" width="160%" height="160%"><feGaussianBlur stdDeviation="1.6"/></filter><filter id="blr3" x="-30%" y="-30%" width="160%" height="160%"><feGaussianBlur stdDeviation="3"/></filter><filter id="blr1" x="-30%" y="-30%" width="160%" height="160%"><feGaussianBlur stdDeviation="1"/></filter></defs>
<path d="M155.60,36.10 L188.60,36.10 L199.40,25.00 L166.50,25.00 Z" fill="#ededed" stroke="#a8c8e8" stroke-width="0.7"/>
<path d="M188.60,36.10 L199.40,25.00 L199.40,57.90 L188.60,69.00 Z" fill="#c6c6c6" stroke="#a8c8e8" stroke-width="0.7"/>
<path d="M155.60,36.10 L188.60,36.10 L188.60,69.00 L155.60,69.00 Z" fill="#f1f1f1" stroke="#a8c8e8" stroke-width="0.7"/>
<g filter="url(#blr)">
<path d="M163.70,38.60 L185.70,38.60 L190.90,33.40 L168.90,33.40 Z" fill="#3d7fd6" stroke="none" stroke-width="1"/>
<path d="M185.70,38.60 L190.90,33.40 L190.90,55.40 L185.70,60.60 Z" fill="#1a4fa6" stroke="none" stroke-width="1"/>
<rect x="163.70" y="38.60" width="22.00" height="22.00" fill="#1f66d3" rx="1.5"/>
</g>
<line x1="155.60" y1="36.10" x2="188.60" y2="36.10" stroke="#8c8c8c" stroke-width="1.0"/>
<line x1="188.60" y1="36.10" x2="188.60" y2="69.00" stroke="#444" stroke-width="0.9"/>
<line x1="188.60" y1="36.10" x2="199.40" y2="25.00" stroke="#444" stroke-width="0.9"/>
<path d="M296.50,123.40 L329.60,123.40 L340.60,111.90 L308.00,111.90 Z" fill="#ededed" stroke="#a8c8e8" stroke-width="0.7"/>
<path d="M329.60,123.40 L340.60,111.90 L340.60,143.70 L329.60,155.20 Z" fill="#c6c6c6" stroke="#a8c8e8" stroke-width="0.7"/>
<path d="M296.50,123.40 L329.60,123.40 L329.60,155.20 L296.50,155.20 Z" fill="#f1f1f1" stroke="#a8c8e8" stroke-width="0.7"/>
<g filter="url(#blr)">
<path d="M302.10,124.40 L329.00,124.40 L335.24,118.16 L308.34,118.16 Z" fill="#3d7fd6" stroke="none" stroke-width="1"/>
<path d="M329.00,124.40 L335.24,118.16 L335.24,145.26 L329.00,151.50 Z" fill="#1a4fa6" stroke="none" stroke-width="1"/>
<rect x="302.10" y="124.40" width="26.90" height="27.10" fill="#1f66d3" rx="1.5"/>
</g>
<line x1="296.50" y1="123.40" x2="329.60" y2="123.40" stroke="#8c8c8c" stroke-width="1.0"/>
<line x1="329.60" y1="123.40" x2="329.60" y2="155.20" stroke="#444" stroke-width="0.9"/>
<line x1="329.60" y1="123.40" x2="340.60" y2="111.90" stroke="#444" stroke-width="0.9"/>
<text x="137.20" y="54.90" font-family='"Liberation Sans", sans-serif' font-size="11.8" text-anchor="start" font-weight="normal" font-style="normal" fill="#111">PW</text>
<text x="174.50" y="73.30" font-family='"Liberation Sans", sans-serif' font-size="11.5" text-anchor="middle" font-weight="normal" font-style="normal" fill="#2255dd">PB</text>
<text x="281.00" y="142.60" font-family='"Liberation Sans", sans-serif' font-size="11.8" text-anchor="start" font-weight="normal" font-style="normal" fill="#111">PW</text>
<text x="316.00" y="162.50" font-family='"Liberation Sans", sans-serif' font-size="11.5" text-anchor="middle" font-weight="normal" font-style="normal" fill="#2255dd">PB</text>
<path d="M198.00,43.60 L199.20,43.60 L199.20,43.60 L199.45,42.85 L199.70,42.11 L199.95,41.40 L200.20,40.74 L200.45,40.14 L200.70,39.62 L200.95,39.17 L201.20,38.83 L201.45,38.58 L201.70,38.44 L201.95,38.40 L202.20,38.48 L202.45,38.66 L202.70,38.95 L202.95,39.34 L203.20,39.82 L203.45,40.37 L203.70,41.00 L203.95,41.68 L204.20,42.40 L204.45,43.15 L204.70,43.90 L204.95,44.65 L205.20,45.38 L205.45,46.07 L205.70,46.71 L205.95,47.28 L206.20,47.77 L206.45,48.18 L206.70,48.49 L206.95,48.69 L207.20,48.79 L207.45,48.78 L207.70,48.66 L207.95,48.43 L208.20,48.10 L208.45,47.68 L208.70,47.17 L208.95,46.58 L209.20,45.93 L209.45,45.24 L209.70,44.50 L209.95,43.75 L210.20,43.00 L210.45,42.25 L210.70,41.54 L210.95,40.87 L211.20,40.26 L211.45,39.72 L211.70,39.26 L211.95,38.89 L212.20,38.62 L212.45,38.45 L212.70,38.40 L212.95,38.45 L213.20,38.62 L213.45,38.89 L213.70,39.26 L213.95,39.72 L214.20,40.26 L214.45,40.87 L214.70,41.54 L214.95,42.25 L215.20,43.00 L215.45,43.75 L215.70,44.50 L215.95,45.24 L216.20,45.93 L216.45,46.58 L216.70,47.17 L216.95,47.68 L217.20,48.10 L217.45,48.43 L217.70,48.66 L217.95,48.78 L218.20,48.79 L218.45,48.69 L218.70,48.49 L218.95,48.18 L219.20,47.77 L219.45,47.28 L219.70,46.71 L219.95,46.07 L220.20,45.38 L220.45,44.65 L220.70,43.90 L220.95,43.15 L221.20,42.40 L221.45,41.68 L221.70,41.00 L221.95,40.37 L222.20,39.82 L222.45,39.34 L222.70,38.95 L222.95,38.66 L223.20,38.48 L223.45,38.40 L223.70,38.44 L223.95,38.58 L224.20,38.83 L224.45,39.17 L224.70,39.62 L224.95,40.14 L225.20,40.74 L225.45,41.40 L225.70,42.11 L225.95,42.85 L226.20,43.60 L226.45,44.35 L226.70,45.09 L226.95,45.80 L227.20,46.46 L227.45,47.06 L227.70,47.58 L227.95,48.03 L228.20,48.37 L228.45,48.62 L228.70,48.76 L228.95,48.80 L229.20,48.72 L229.45,48.54 L229.70,48.25 L229.95,47.86 L230.20,47.38 L230.45,46.83 L230.70,46.20 L230.95,45.52 L231.20,44.80" fill="none" stroke="#7030a0" stroke-width="1.6" stroke-linejoin="round" stroke-linecap="round"/>
<path d="M193.00,43.60 L198.50,41.30 L198.50,45.90 Z" fill="#7030a0" stroke="none" stroke-width="1"/>
<path d="M341.90,133.90 L342.80,133.90 L342.80,133.90 L343.05,132.02 L343.30,130.38 L343.55,129.21 L343.80,128.64 L344.05,128.76 L344.30,129.54 L344.55,130.90 L344.80,132.64 L345.05,134.55 L345.30,136.38 L345.55,137.88 L345.80,138.86 L346.05,139.20 L346.30,138.85 L346.55,137.85 L346.80,136.34 L347.05,134.51 L347.30,132.61 L347.55,130.87 L347.80,129.52 L348.05,128.75 L348.30,128.64 L348.55,129.22 L348.80,130.41 L349.05,132.06 L349.30,133.94 L349.55,135.82 L349.80,137.45 L350.05,138.61 L350.30,139.17 L350.55,139.03 L350.80,138.23 L351.05,136.87 L351.30,135.12 L351.55,133.21 L351.80,131.39 L352.05,129.90 L352.30,128.92 L352.55,128.60 L352.80,128.97 L353.05,129.97 L353.30,131.49 L353.55,133.32 L353.80,135.23 L354.05,136.97 L354.30,138.30 L354.55,139.06 L354.80,139.15 L355.05,138.56 L355.30,137.36 L355.55,135.71 L355.80,133.82 L356.05,131.95 L356.30,130.33 L356.55,129.17 L356.80,128.63 L357.05,128.77 L357.30,129.59 L357.55,130.96 L357.80,132.72 L358.05,134.63 L358.30,136.44 L358.55,137.93 L358.80,138.89 L359.05,139.20 L359.30,138.82 L359.55,137.80 L359.80,136.27 L360.05,134.44 L360.30,132.53 L360.55,130.80 L360.80,129.48 L361.05,128.73 L361.30,128.65 L361.55,129.26 L361.80,130.47 L362.05,132.13 L362.30,134.02 L362.55,135.89 L362.80,137.50 L363.05,138.65 L363.30,139.17 L363.55,139.02 L363.80,138.19 L364.05,136.81 L364.30,135.04 L364.55,133.13 L364.80,131.32 L365.05,129.85 L365.30,128.90 L365.55,128.60 L365.80,128.99 L366.05,130.03 L366.30,131.56 L366.55,133.40 L366.80,135.31 L367.05,137.03 L367.30,138.34 L367.55,139.08 L367.80,139.14 L368.05,138.52 L368.30,137.30 L368.55,135.64 L368.80,133.75" fill="none" stroke="#7030a0" stroke-width="1.6" stroke-linejoin="round" stroke-linecap="round"/>
<path d="M336.90,133.90 L342.40,131.60 L342.40,136.20 Z" fill="#7030a0" stroke="none" stroke-width="1"/>
<rect x="389.80" y="432.00" width="143.00" height="139.70" fill="#616161"/>
<filter id="noise" x="0" y="0" width="100%" height="100%"><feTurbulence type="fractalNoise" baseFrequency="0.6" numOctaves="2" seed="3"/><feColorMatrix type="matrix" values="0 0 0 0 0.5  0 0 0 0 0.5  0 0 0 0 0.5  0 0 0 0.25 0"/></filter>
<rect x="389.8" y="432" width="143" height="139.7" filter="url(#noise)" opacity="0.5"/>
<rect x="532.80" y="432.00" width="1.80" height="139.70" fill="#9c9c9c"/>
<g filter="url(#blr1)">
<path d="M455.90,457.70 L503.30,493.40 L468.80,536.70 L422.50,500.90 Z" fill="#858585" stroke="#bdbdbd" stroke-width="2.6" stroke-linejoin="round"/>
</g>
<text x="458.30" y="449.00" font-family='"Liberation Sans", sans-serif' font-size="17" text-anchor="middle" font-weight="normal" font-style="normal" fill="#fff">SEM</text>
<rect x="395.20" y="561.20" width="26.80" height="3.50" fill="#fff"/>
<rect x="534.60" y="432.00" width="143.90" height="139.70" fill="#000"/>
<filter id="blr4" x="-30%" y="-30%" width="160%" height="160%"><feGaussianBlur stdDeviation="3.5"/></filter>
<g filter="url(#blr4)">
<path d="M550.00,503.00 L577.00,464.00 L642.00,501.00 L606.00,543.00 Z" fill="#6a1200" stroke="#6a1200" stroke-width="3" stroke-linejoin="round"/>
</g>
<g filter="url(#blr2)">
<path d="M553.70,503.20 L577.70,468.70 L636.00,503.00 L604.50,537.50 Z" fill="#c4821c" stroke="#c4821c" stroke-width="3" stroke-linejoin="round"/>
</g>
<g filter="url(#blr2)">
<path d="M555.50,503.00 L578.00,470.50 L630.00,500.50 L602.50,533.50 Z" fill="#dcb566" stroke="#dcb566" stroke-width="3" stroke-linejoin="round"/>
</g>
<g filter="url(#blr2)">
<path d="M558.00,502.50 L579.00,473.00 L621.00,497.00 L598.00,527.50 Z" fill="#ead9a8" stroke="#ead9a8" stroke-width="3" stroke-linejoin="round"/>
</g>
<linearGradient id="cbar" x1="0" y1="0" x2="0" y2="1"><stop offset="0" stop-color="#ffffff"/><stop offset="0.2" stop-color="#dcc08a"/><stop offset="0.37" stop-color="#9a6408"/><stop offset="0.58" stop-color="#5a0400"/><stop offset="0.75" stop-color="#160000"/><stop offset="0.86" stop-color="#030000"/><stop offset="1" stop-color="#000"/></linearGradient>
<rect x="654.3" y="444.3" width="15.2" height="115.5" fill="url(#cbar)" stroke="#d0d0d0" stroke-width="1"/>
<text x="600.00" y="449.00" font-family='"Liberation Sans", sans-serif' font-size="17" text-anchor="middle" font-weight="normal" font-style="normal" fill="#fff">AFM</text>
<text x="660.00" y="442.00" font-family='"Liberation Sans", sans-serif' font-size="10" text-anchor="middle" font-weight="bold" font-style="normal" fill="#fff">250 nm</text>
<text x="661.70" y="569.80" font-family='"Liberation Sans", sans-serif' font-size="10" text-anchor="middle" font-weight="bold" font-style="normal" fill="#fff">0.0</text>
<rect x="543.20" y="561.60" width="20.30" height="4.00" fill="#fff"/>
<path d="M418.10,596.00 L384.00,617.00 L454.20,627.50 L488.30,606.50 Z" fill="#a3d3f3" stroke="none" stroke-width="1"/>
<path d="M384.00,617.00 L454.20,627.50 L454.20,703.70 L384.00,693.20 Z" fill="#6891bd" stroke="none" stroke-width="1"/>
<path d="M454.20,627.50 L488.30,606.50 L488.30,682.70 L454.20,703.70 Z" fill="#5f88b4" stroke="none" stroke-width="1"/>
<path d="M392.77,618.31 L426.88,597.31 M388.26,614.38 L458.46,624.88 M401.55,619.62 L435.65,598.62 M392.52,611.75 L462.73,622.25 M410.32,620.94 L444.42,599.94 M396.79,609.12 L466.99,619.62 M419.10,622.25 L453.20,601.25 M401.05,606.50 L471.25,617.00 M427.88,623.56 L461.98,602.56 M405.31,603.88 L475.51,614.38 M436.65,624.88 L470.75,603.88 M409.57,601.25 L479.77,611.75 M445.43,626.19 L479.52,605.19 M413.84,598.62 L484.04,609.12 " fill="none" stroke="#4f7fae" stroke-width="0.6"/>
<path d="M392.77,618.31 l0,76.20 M458.46,624.88 l0,76.20 M401.55,619.62 l0,76.20 M462.73,622.25 l0,76.20 M410.32,620.94 l0,76.20 M466.99,619.62 l0,76.20 M419.10,622.25 l0,76.20 M471.25,617.00 l0,76.20 M427.88,623.56 l0,76.20 M475.51,614.38 l0,76.20 M436.65,624.88 l0,76.20 M479.77,611.75 l0,76.20 M445.43,626.19 l0,76.20 M484.04,609.12 l0,76.20 " fill="none" stroke="#54789e" stroke-width="0.6"/>
<path d="M384.00,626.52 L454.20,637.02 L488.30,616.02 M384.00,636.05 L454.20,646.55 L488.30,625.55 M384.00,645.58 L454.20,656.08 L488.30,635.08 M384.00,655.10 L454.20,665.60 L488.30,644.60 M384.00,664.62 L454.20,675.12 L488.30,654.12 M384.00,674.15 L454.20,684.65 L488.30,663.65 M384.00,683.67 L454.20,694.17 L488.30,673.17 " fill="none" stroke="#a9d5f3" stroke-width="1.0"/>
<path d="M602.30,597.60 L569.10,617.70 L638.50,627.40 L671.70,607.30 Z" fill="#f4f4f4" stroke="none" stroke-width="1"/>
<path d="M569.10,617.70 L638.50,627.40 L638.50,702.60 L569.10,692.90 Z" fill="#dadada" stroke="none" stroke-width="1"/>
<path d="M638.50,627.40 L671.70,607.30 L671.70,682.50 L638.50,702.60 Z" fill="#cdcdcd" stroke="none" stroke-width="1"/>
<path d="M577.77,618.91 L610.98,598.81 M573.25,615.19 L642.65,624.89 M586.45,620.12 L619.65,600.02 M577.40,612.68 L646.80,622.38 M595.12,621.34 L628.33,601.24 M581.55,610.16 L650.95,619.86 M603.80,622.55 L637.00,602.45 M585.70,607.65 L655.10,617.35 M612.48,623.76 L645.68,603.66 M589.85,605.14 L659.25,614.84 M621.15,624.98 L654.35,604.88 M594.00,602.62 L663.40,612.32 M629.83,626.19 L663.03,606.09 M598.15,600.11 L667.55,609.81 " fill="none" stroke="#bdbdbd" stroke-width="0.6"/>
<path d="M577.77,618.91 l0,75.20 M642.65,624.89 l0,75.20 M586.45,620.12 l0,75.20 M646.80,622.38 l0,75.20 M595.12,621.34 l0,75.20 M650.95,619.86 l0,75.20 M603.80,622.55 l0,75.20 M655.10,617.35 l0,75.20 M612.48,623.76 l0,75.20 M659.25,614.84 l0,75.20 M621.15,624.98 l0,75.20 M663.40,612.32 l0,75.20 M629.83,626.19 l0,75.20 M667.55,609.81 l0,75.20 " fill="none" stroke="#bbbbbb" stroke-width="0.6"/>
<path d="M569.10,627.10 L638.50,636.80 L671.70,616.70 M569.10,636.50 L638.50,646.20 L671.70,626.10 M569.10,645.90 L638.50,655.60 L671.70,635.50 M569.10,655.30 L638.50,665.00 L671.70,644.90 M569.10,664.70 L638.50,674.40 L671.70,654.30 M569.10,674.10 L638.50,683.80 L671.70,663.70 M569.10,683.50 L638.50,693.20 L671.70,673.10 " fill="none" stroke="#f7f7f7" stroke-width="1.0"/>
<path d="M620.40,612.00 L647.30,616.30 L647.30,625.60 L620.40,621.10 Z" fill="#ebebeb" stroke="none" stroke-width="1"/>
<path d="M629.4,613.5 l0,9.1 M638.3,615 l0,9.1" fill="none" stroke="#cdcdcd" stroke-width="0.7"/>
<clipPath id="cavc"><path d="M606.90,630.50 L620.40,621.10 L647.30,625.60 L647.30,655.00 L634.30,662.30 L606.90,658.20 Z"/></clipPath>
<path d="M606.90,630.50 L620.40,621.10 L647.30,625.60 L647.30,655.00 L634.30,662.30 L606.90,658.20 Z" fill="#4a7fb8" stroke="none" stroke-width="1"/>
<g clip-path="url(#cavc)">
<path d="M624.75,626.45 L629.05,623.85 L629.05,634.35 L624.75,636.95 Z" fill="#3c6ea6" stroke="none" stroke-width="1"/>
<path d="M615.95,625.15 L624.75,626.45 L624.75,636.95 L615.95,635.65 Z" fill="#4d84bd" stroke="none" stroke-width="1"/>
<path d="M615.95,625.15 L624.75,626.45 L629.05,623.85 L620.25,622.55 Z" fill="#8ecdf5" stroke="none" stroke-width="1"/>
<path d="M633.25,636.95 L637.55,634.35 L637.55,644.85 L633.25,647.45 Z" fill="#3c6ea6" stroke="none" stroke-width="1"/>
<path d="M624.45,635.65 L633.25,636.95 L633.25,647.45 L624.45,646.15 Z" fill="#4d84bd" stroke="none" stroke-width="1"/>
<path d="M624.45,635.65 L633.25,636.95 L637.55,634.35 L628.75,633.05 Z" fill="#8ecdf5" stroke="none" stroke-width="1"/>
<path d="M620.25,638.45 L624.55,635.85 L624.55,646.35 L620.25,648.95 Z" fill="#3c6ea6" stroke="none" stroke-width="1"/>
<path d="M611.45,637.15 L620.25,638.45 L620.25,648.95 L611.45,647.65 Z" fill="#4d84bd" stroke="none" stroke-width="1"/>
<path d="M611.45,637.15 L620.25,638.45 L624.55,635.85 L615.75,634.55 Z" fill="#8ecdf5" stroke="none" stroke-width="1"/>
<path d="M642.75,647.45 L647.05,644.85 L647.05,655.35 L642.75,657.95 Z" fill="#3c6ea6" stroke="none" stroke-width="1"/>
<path d="M633.95,646.15 L642.75,647.45 L642.75,657.95 L633.95,656.65 Z" fill="#4d84bd" stroke="none" stroke-width="1"/>
<path d="M633.95,646.15 L642.75,647.45 L647.05,644.85 L638.25,643.55 Z" fill="#8ecdf5" stroke="none" stroke-width="1"/>
<path d="M629.75,648.95 L634.05,646.35 L634.05,656.85 L629.75,659.45 Z" fill="#3c6ea6" stroke="none" stroke-width="1"/>
<path d="M620.95,647.65 L629.75,648.95 L629.75,659.45 L620.95,658.15 Z" fill="#4d84bd" stroke="none" stroke-width="1"/>
<path d="M620.95,647.65 L629.75,648.95 L634.05,646.35 L625.25,645.05 Z" fill="#8ecdf5" stroke="none" stroke-width="1"/>
<path d="M616.75,650.45 L621.05,647.85 L621.05,658.35 L616.75,660.95 Z" fill="#3c6ea6" stroke="none" stroke-width="1"/>
<path d="M607.95,649.15 L616.75,650.45 L616.75,660.95 L607.95,659.65 Z" fill="#4d84bd" stroke="none" stroke-width="1"/>
<path d="M607.95,649.15 L616.75,650.45 L621.05,647.85 L612.25,646.55 Z" fill="#8ecdf5" stroke="none" stroke-width="1"/>
<path d="M636.25,660.45 L640.55,657.85 L640.55,668.35 L636.25,670.95 Z" fill="#3c6ea6" stroke="none" stroke-width="1"/>
<path d="M627.45,659.15 L636.25,660.45 L636.25,670.95 L627.45,669.65 Z" fill="#4d84bd" stroke="none" stroke-width="1"/>
<path d="M627.45,659.15 L636.25,660.45 L640.55,657.85 L631.75,656.55 Z" fill="#8ecdf5" stroke="none" stroke-width="1"/>
<path d="M624.75,661.45 L629.05,658.85 L629.05,669.35 L624.75,671.95 Z" fill="#3c6ea6" stroke="none" stroke-width="1"/>
<path d="M615.95,660.15 L624.75,661.45 L624.75,671.95 L615.95,670.65 Z" fill="#4d84bd" stroke="none" stroke-width="1"/>
<path d="M615.95,660.15 L624.75,661.45 L629.05,658.85 L620.25,657.55 Z" fill="#8ecdf5" stroke="none" stroke-width="1"/>
</g>
<line x1="606.90" y1="630.50" x2="620.40" y2="621.10" stroke="#7fbef0" stroke-width="0.9"/>
<line x1="620.40" y1="621.10" x2="647.30" y2="625.60" stroke="#7fbef0" stroke-width="0.9"/>
<path d="M606.90,658.20 L634.30,662.30 L647.30,655.00 L648.50,655.50 L635.00,664.00 L606.90,660.00 Z" fill="#f6f6f6" stroke="none" stroke-width="1"/>
<path d="M497.60,645.20 L508.40,645.20 L516.90,650.70 L508.40,656.20 L497.60,656.20 L506.10,650.70 Z" fill="#8c9b81" stroke="none" stroke-width="1"/>
<path d="M516.90,650.70 L508.40,656.20 L508.40,658.70 L516.90,653.20 Z" fill="#55624c" stroke="none" stroke-width="1"/>
<path d="M497.60,656.20 L508.40,656.20 L508.40,658.70 L497.60,658.70 Z" fill="#5d6b54" stroke="none" stroke-width="1"/>
<path d="M497.90,645.40 L499.80,645.40 L507.30,650.40 L506.10,651.10 Z" fill="#3c4636" stroke="none" stroke-width="1"/>
<path d="M519.80,645.20 L530.60,645.20 L539.10,650.70 L530.60,656.20 L519.80,656.20 L528.30,650.70 Z" fill="#8c9b81" stroke="none" stroke-width="1"/>
<path d="M539.10,650.70 L530.60,656.20 L530.60,658.70 L539.10,653.20 Z" fill="#55624c" stroke="none" stroke-width="1"/>
<path d="M519.80,656.20 L530.60,656.20 L530.60,658.70 L519.80,658.70 Z" fill="#5d6b54" stroke="none" stroke-width="1"/>
<path d="M520.10,645.40 L522.00,645.40 L529.50,650.40 L528.30,651.10 Z" fill="#3c4636" stroke="none" stroke-width="1"/>
<path d="M539.70,645.20 L550.50,645.20 L559.00,650.70 L550.50,656.20 L539.70,656.20 L548.20,650.70 Z" fill="#8c9b81" stroke="none" stroke-width="1"/>
<path d="M559.00,650.70 L550.50,656.20 L550.50,658.70 L559.00,653.20 Z" fill="#55624c" stroke="none" stroke-width="1"/>
<path d="M539.70,656.20 L550.50,656.20 L550.50,658.70 L539.70,658.70 Z" fill="#5d6b54" stroke="none" stroke-width="1"/>
<path d="M540.00,645.40 L541.90,645.40 L549.40,650.40 L548.20,651.10 Z" fill="#3c4636" stroke="none" stroke-width="1"/>
<radialGradient id="ball" cx="0.42" cy="0.35" r="0.65"><stop offset="0" stop-color="#e8fff0"/><stop offset="0.35" stop-color="#8fd6a8"/><stop offset="0.8" stop-color="#3c9a64"/><stop offset="1" stop-color="#2a7a4c"/></radialGradient>
<circle cx="529.60" cy="626.70" r="7.0" fill="url(#ball)"/>
<text x="529.30" y="680.60" font-family='"Liberation Sans", sans-serif' font-size="10.2" text-anchor="middle" font-weight="bold" font-style="normal" fill="#222">Inserted K<tspan font-size="7" dy="-4.5">+</tspan></text>
<path d="M397.20,722.90 L400.80,719.30 L412.80,719.30 L409.20,722.90 Z" fill="#8ea8dc" stroke="none" stroke-width="1"/>
<path d="M409.20,722.90 L412.80,719.30 L412.80,731.30 L409.20,734.90 Z" fill="#5670aa" stroke="none" stroke-width="1"/>
<rect x="397.20" y="722.90" width="12.00" height="12.00" fill="#6b88c4"/>
<text x="424.40" y="732.20" font-family='"Liberation Sans", sans-serif' font-size="14" text-anchor="start" font-weight="bold" font-style="normal" fill="#2e75b6">PB</text>
<text x="450.6" y="732.4" font-family='"Liberation Sans", sans-serif' font-size="10.5" font-weight="bold" fill="#2e75b6">KFe<tspan font-size="7" dy="-4.5">III</tspan><tspan dy="4.5">[Fe</tspan><tspan font-size="7" dy="-4.5">II</tspan><tspan dy="4.5">(CN)</tspan><tspan font-size="7" dy="2">6</tspan><tspan dy="-2">]</tspan></text>
<path d="M544.70,725.45 L548.15,722.00 L559.65,722.00 L556.20,725.45 Z" fill="#e0e0e0" stroke="none" stroke-width="1"/>
<path d="M556.20,725.45 L559.65,722.00 L559.65,733.50 L556.20,736.95 Z" fill="#b0b0b0" stroke="none" stroke-width="1"/>
<rect x="544.70" y="725.45" width="11.50" height="11.50" fill="#c4c4c4"/>
<text x="570.70" y="732.20" font-family='"Liberation Sans", sans-serif' font-size="14" text-anchor="start" font-weight="bold" font-style="normal" fill="#9a9a9a">PW</text>
<text x="600.1" y="732.4" font-family='"Liberation Sans", sans-serif' font-size="10.5" font-weight="bold" fill="#9a9a9a">K<tspan font-size="7" dy="2">2</tspan><tspan dy="-2">Fe</tspan><tspan font-size="7" dy="-4.5">II</tspan><tspan dy="4.5">[Fe</tspan><tspan font-size="7" dy="-4.5">II</tspan><tspan dy="4.5">(CN)</tspan><tspan font-size="7" dy="2">6</tspan><tspan dy="-2">]</tspan></text>
<text x="5.90" y="12.60" font-family='"Liberation Sans", sans-serif' font-size="20" text-anchor="start" font-weight="bold" font-style="normal" fill="#000">a</text>
<text x="6.80" y="220.20" font-family='"Liberation Sans", sans-serif' font-size="20" text-anchor="start" font-weight="bold" font-style="normal" fill="#000">b</text>
<text x="406.20" y="12.60" font-family='"Liberation Sans", sans-serif' font-size="20" text-anchor="start" font-weight="bold" font-style="normal" fill="#000">c</text>
<text x="409.80" y="217.30" font-family='"Liberation Sans", sans-serif' font-size="20" text-anchor="start" font-weight="bold" font-style="normal" fill="#000">d</text>
<text x="5.80" y="439.20" font-family='"Liberation Sans", sans-serif' font-size="20" text-anchor="start" font-weight="bold" font-style="normal" fill="#000">e</text>
<text x="362.40" y="440.60" font-family='"Liberation Sans", sans-serif' font-size="20" text-anchor="start" font-weight="bold" font-style="normal" fill="#000">f</text>
<text x="363.00" y="593.50" font-family='"Liberation Sans", sans-serif' font-size="20" text-anchor="start" font-weight="bold" font-style="normal" fill="#000">g</text>
</svg>
</body></html>
